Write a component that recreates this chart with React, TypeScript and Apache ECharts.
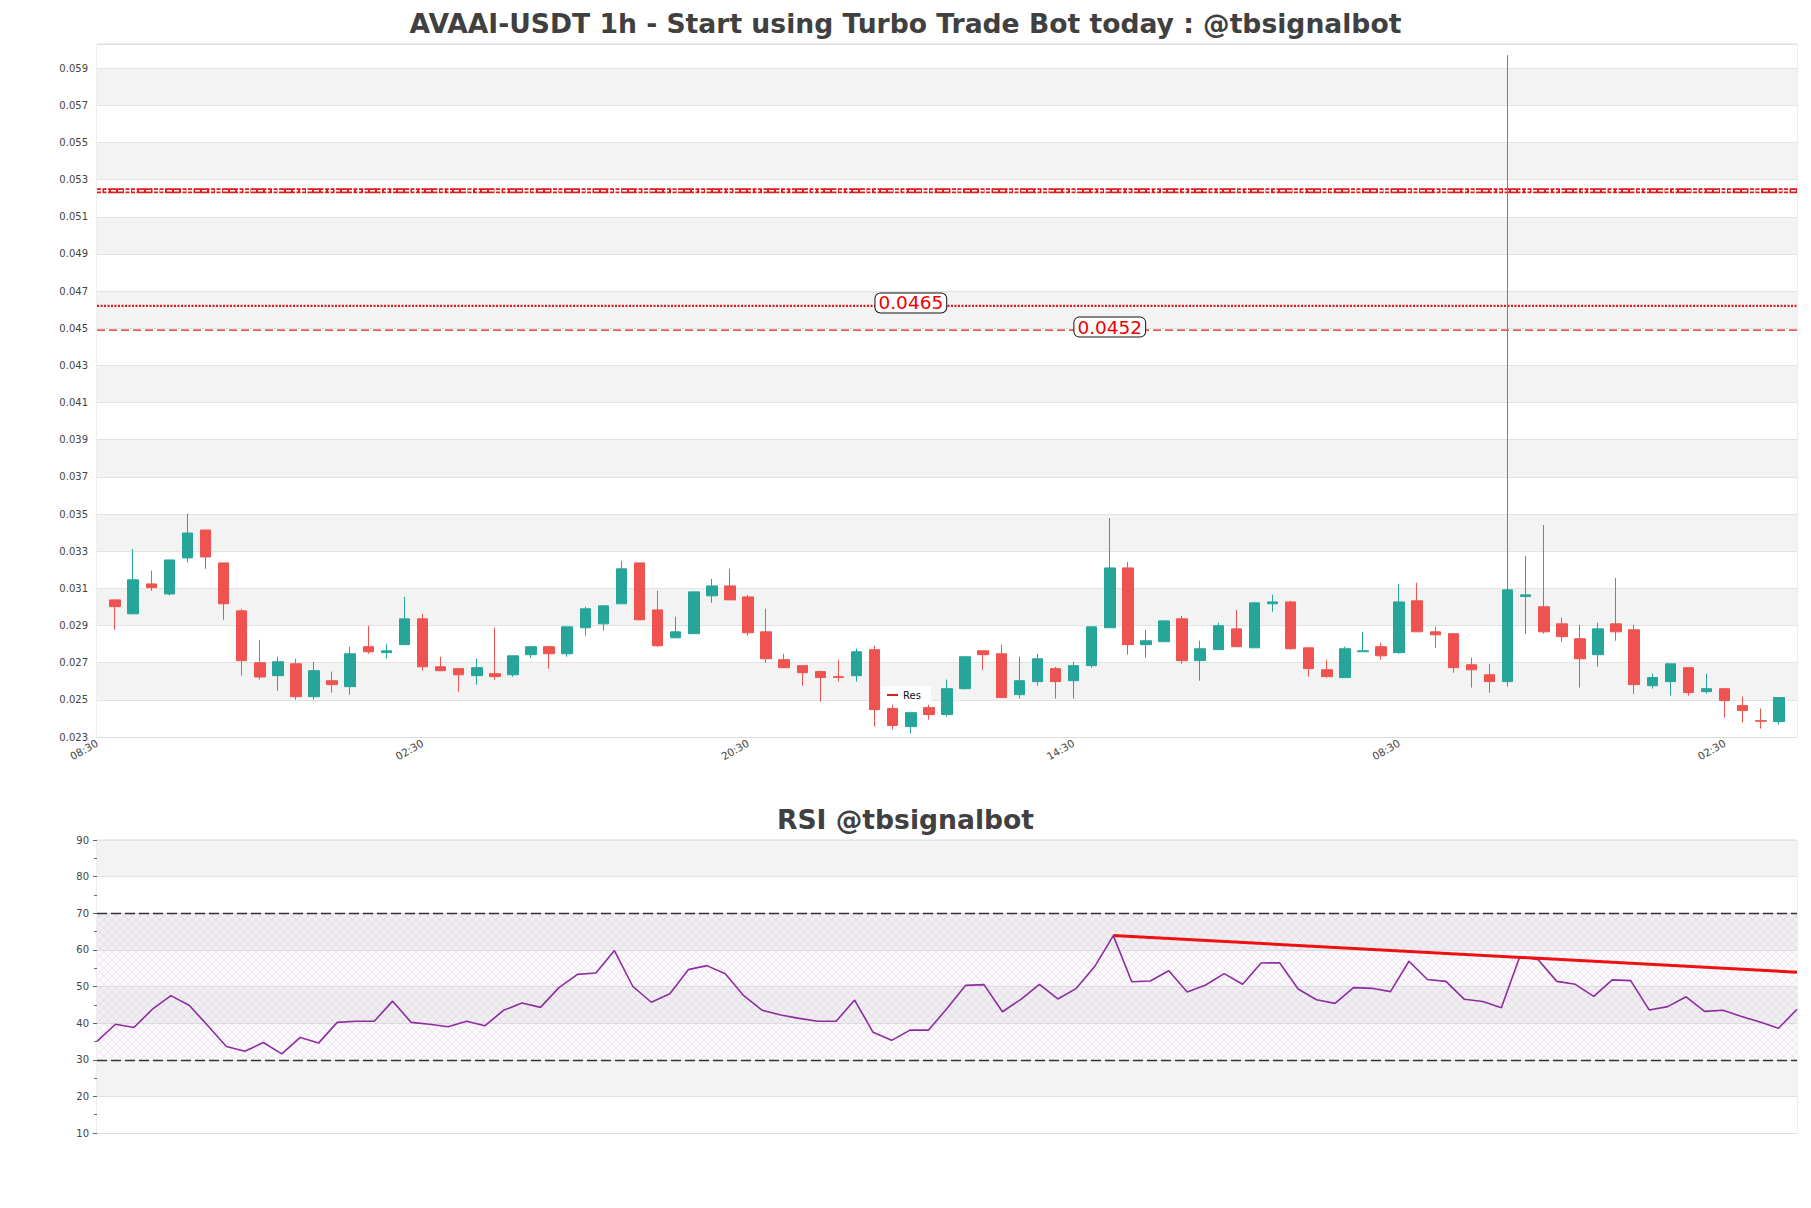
import React, { useEffect, useRef } from "react";
import * as echarts from "echarts";

// ---- data (hourly candles, first axis slot is 08:30, candles start at 09:30) ----
const firstSlotHour = 8;
const slotCount = 95;
const tickEvery = 18;

const opens = [
  0.03068, 0.02993, 0.03154, 0.031, 0.03294, 0.03444, 0.03267, 0.03009, 0.0273, 0.0266,
  0.02724, 0.02547, 0.02633, 0.02601, 0.02816, 0.02784, 0.02827, 0.02966, 0.02708, 0.02698,
  0.0266, 0.02671, 0.02665, 0.02773, 0.02816, 0.02778, 0.02918, 0.02939, 0.03047, 0.03267,
  0.03014, 0.02864, 0.02886, 0.0309, 0.03143, 0.03084, 0.02896, 0.02746, 0.02714, 0.02682,
  0.02655, 0.0266, 0.028, 0.02483, 0.02386, 0.02488, 0.02451, 0.0259, 0.02794, 0.02778,
  0.02558, 0.02628, 0.02698, 0.02633, 0.02714, 0.02918, 0.0324, 0.02827, 0.02843, 0.02966,
  0.02741, 0.028, 0.02912, 0.0281, 0.03047, 0.03057, 0.0281, 0.02692, 0.0265, 0.02789,
  0.02816, 0.02784, 0.03063, 0.02896, 0.02886, 0.02719, 0.02665, 0.02628, 0.03086, 0.03031,
  0.02939, 0.02859, 0.02773, 0.02939, 0.02907, 0.02606, 0.02628, 0.02703, 0.02574, 0.0259,
  0.02499, 0.02418, 0.02413,
];
const closes = [
  0.03032, 0.03176, 0.03134, 0.03283, 0.03428, 0.03299, 0.03047, 0.02741, 0.02653, 0.02735,
  0.02547, 0.02687, 0.02612, 0.02778, 0.02789, 0.02794, 0.02966, 0.02708, 0.02687, 0.02665,
  0.02703, 0.02655, 0.02767, 0.02816, 0.02778, 0.02923, 0.0302, 0.03036, 0.03235, 0.02961,
  0.02821, 0.02896, 0.03111, 0.03143, 0.03068, 0.02891, 0.02751, 0.02703, 0.02676, 0.0265,
  0.02651, 0.02789, 0.02477, 0.02392, 0.02461, 0.02451, 0.0259, 0.02762, 0.02773, 0.02542,
  0.02633, 0.02751, 0.02628, 0.02714, 0.02923, 0.0324, 0.02827, 0.02848, 0.02955, 0.02741,
  0.02805, 0.02929, 0.02816, 0.03052, 0.03057, 0.02805, 0.02698, 0.02655, 0.02805, 0.02794,
  0.02767, 0.03057, 0.02896, 0.0288, 0.02703, 0.02692, 0.02628, 0.03122, 0.03095, 0.02896,
  0.0287, 0.02751, 0.02912, 0.02896, 0.02612, 0.0265, 0.02724, 0.02569, 0.0259, 0.02526,
  0.02472, 0.02415, 0.02542,
];
const lows = [
  0.02907, 0.0299, 0.03117, 0.03091, 0.03269, 0.03235, 0.02961, 0.0266, 0.02639, 0.0258,
  0.02531, 0.02531, 0.02569, 0.02558, 0.02778, 0.02751, 0.02827, 0.02687, 0.02687, 0.02574,
  0.02612, 0.02637, 0.02655, 0.02757, 0.02698, 0.02762, 0.02875, 0.02902, 0.03047, 0.02961,
  0.02816, 0.02864, 0.02886, 0.03052, 0.03068, 0.02875, 0.0273, 0.02703, 0.02606, 0.02521,
  0.02628, 0.02628, 0.02386, 0.0237, 0.02349, 0.02424, 0.0244, 0.02585, 0.02692, 0.02542,
  0.02537, 0.02606, 0.02537, 0.02537, 0.02703, 0.02918, 0.02773, 0.02757, 0.02843, 0.02724,
  0.02633, 0.028, 0.02816, 0.0281, 0.03004, 0.028, 0.02655, 0.0265, 0.0265, 0.02789,
  0.02746, 0.02778, 0.02896, 0.0281, 0.02676, 0.02596, 0.02569, 0.02601, 0.02886, 0.02886,
  0.02843, 0.02596, 0.02708, 0.02848, 0.02563, 0.0259, 0.02553, 0.02553, 0.02563, 0.02434,
  0.02408, 0.02375, 0.02397,
];
const highs = [
  0.0307, 0.03342, 0.03226, 0.03283, 0.03532, 0.03444, 0.03267, 0.0302, 0.02853, 0.02762,
  0.02751, 0.02735, 0.02682, 0.02816, 0.02929, 0.02832, 0.03084, 0.02993, 0.02762, 0.02698,
  0.02751, 0.02918, 0.02767, 0.02821, 0.02816, 0.02923, 0.03031, 0.03036, 0.03278, 0.03267,
  0.03117, 0.02977, 0.03111, 0.03181, 0.03235, 0.03095, 0.0302, 0.02778, 0.02714, 0.02687,
  0.02746, 0.02805, 0.02821, 0.02504, 0.02467, 0.02504, 0.02639, 0.02762, 0.02794, 0.02827,
  0.02762, 0.02778, 0.02708, 0.02735, 0.02923, 0.03509, 0.03272, 0.02907, 0.02955, 0.02982,
  0.02848, 0.02945, 0.03014, 0.03057, 0.03095, 0.03063, 0.0281, 0.02746, 0.02816, 0.02896,
  0.02837, 0.03154, 0.0316, 0.02923, 0.02886, 0.02757, 0.02724, 0.06, 0.03304, 0.03471,
  0.02972, 0.02934, 0.02945, 0.03186, 0.02934, 0.02671, 0.02724, 0.02703, 0.02671, 0.0259,
  0.02547, 0.02483, 0.02542,
];

const rsiValues = [
  35.0, 39.7, 38.8, 43.8, 47.5, 44.8, 39.3, 33.6, 32.3, 34.7,
  31.6, 36.1, 34.6, 40.2, 40.5, 40.5, 46.0, 40.2, 39.7, 39.0,
  40.5, 39.3, 43.5, 45.5, 44.3, 49.7, 53.3, 53.7, 59.8, 50.0,
  45.7, 48.0, 54.6, 55.7, 53.5, 47.5, 43.5, 42.2, 41.3, 40.5,
  40.5, 46.3, 37.5, 35.3, 38.1, 38.1, 44.0, 50.3, 50.5, 43.1,
  46.5, 50.6, 46.6, 49.5, 55.5, 63.9, 51.3, 51.5, 54.3, 48.5,
  50.4, 53.5, 50.6, 56.4, 56.5, 49.3, 46.4, 45.4, 49.7, 49.5,
  48.6, 56.9, 51.9, 51.4, 46.5, 45.9, 44.2, 58.2, 57.3, 51.4,
  50.6, 47.3, 51.8, 51.6, 43.6, 44.5, 47.2, 43.2, 43.5, 41.8,
  40.3, 38.6, 43.8,
];

const trendPoints = [
  [55, 63.9],
  [92, 53.9],
];

const resLevel = 0.0527;
const levelLabels = [
  { value: 0.0465, slot: 45, dash: [2, 1.5] },
  { value: 0.0452, slot: 56, dash: [8, 4] },
];
const rsiBands = [30, 70];

const yMin = 0.0233;
const yMax = 0.0606;
const yStep = 0.002;

const FONT = "DejaVu Sans";

function slotLabel(s: number): string {
  const h = (firstSlotHour + s) % 24;
  return (h < 10 ? "0" + h : String(h)) + ":30";
}

function makeHatch(): any {
  const c = document.createElement("canvas");
  c.width = 8;
  c.height = 8;
  const ctx = c.getContext("2d");
  if (ctx) {
    ctx.fillStyle = "rgba(190,160,205,0.06)";
    ctx.fillRect(0, 0, 8, 8);
    ctx.strokeStyle = "rgba(175,150,190,0.32)";
    ctx.lineWidth = 0.6;
    ctx.beginPath();
    ctx.moveTo(0, 0);
    ctx.lineTo(8, 8);
    ctx.moveTo(8, 0);
    ctx.lineTo(0, 8);
    ctx.stroke();
  }
  return { image: c, repeat: "repeat", imageWidth: 8, imageHeight: 8 };
}

export default function App() {
  const ref = useRef<HTMLDivElement>(null);

  useEffect(() => {
    document.body.style.margin = "0";
    if (!ref.current) return;
    const chart = echarts.init(ref.current, null, { renderer: "svg" });

    const slots: string[] = [];
    for (let s = 0; s < slotCount; s++) slots.push(slotLabel(s));
    const candleData = opens.map((o, i) => [i + 1, o, closes[i], lows[i], highs[i]]);
    const rsiCats = rsiValues.map((_, i) => String(i));

    const titleStyle = { fontFamily: FONT, fontWeight: "bold", fontSize: 26.6, color: "#404040" };

    const option: any = {
      animation: false,
      backgroundColor: "#ffffff",
      textStyle: { fontFamily: FONT },
      title: [
        {
          text: "AVAAI-USDT 1h - Start using Turbo Trade Bot today : @tbsignalbot",
          left: "center",
          top: 5,
          textStyle: titleStyle,
        },
        {
          text: "RSI @tbsignalbot",
          left: "center",
          top: 801,
          textStyle: titleStyle,
        },
      ],
      legend: {
        data: [{ name: "Res", icon: "rect" }],
        left: 881,
        top: 686,
        itemWidth: 11,
        itemHeight: 2,
        padding: [4, 10, 4, 6],
        backgroundColor: "#ffffff",
        textStyle: { fontFamily: FONT, fontSize: 10, color: "#111" },
      },
      grid: [
        { left: 97, right: 14, top: 44, height: 693, show: true, borderColor: "#dcdcdc", borderWidth: 1, backgroundColor: "transparent" },
        { left: 97, right: 14, top: 840, height: 293, show: true, borderColor: "#dcdcdc", borderWidth: 1, backgroundColor: "transparent" },
      ],
      xAxis: [
        {
          type: "category",
          gridIndex: 0,
          data: slots,
          boundaryGap: false,
          axisLine: { show: true, lineStyle: { color: "#dcdcdc" } },
          axisTick: { show: false },
          splitLine: { show: false },
          axisLabel: {
            interval: (idx: number) => idx % tickEvery === 0,
            rotate: 30,
            fontSize: 10.5,
            color: "#444",
            margin: 5,
            fontFamily: FONT,
          },
        },
        {
          type: "category",
          gridIndex: 1,
          data: rsiCats,
          boundaryGap: false,
          axisLine: { show: true, lineStyle: { color: "#dcdcdc" } },
          axisTick: { show: false },
          axisLabel: { show: false },
          splitLine: { show: false },
        },
      ],
      yAxis: [
        {
          type: "value",
          gridIndex: 0,
          min: yMin,
          max: yMax,
          interval: yStep,
          axisLine: { show: false },
          axisTick: { show: false },
          axisLabel: {
            showMaxLabel: false,
            fontSize: 10,
            color: "#444",
            margin: 9,
            fontFamily: FONT,
            formatter: (v: number) => (v > yMax - 0.0005 ? "" : (Math.round(v * 1000) / 1000).toFixed(3)),
          },
          splitLine: { show: true, lineStyle: { color: "#e2e2e2", width: 1 } },
          splitArea: { show: true, areaStyle: { color: ["#ffffff", "#f3f3f3"] } },
        },
        {
          type: "value",
          gridIndex: 1,
          min: 10,
          max: 90,
          interval: 10,
          axisLine: { show: false },
          axisTick: { show: true, length: 4, lineStyle: { color: "#666" } },
          minorTick: { show: true, splitNumber: 2, length: 3, lineStyle: { color: "#666" } },
          axisLabel: { fontSize: 10, color: "#444", margin: 8, fontFamily: FONT },
          splitLine: { show: true, lineStyle: { color: "#e2e2e2", width: 1 } },
          splitArea: { show: true, areaStyle: { color: ["#ffffff", "#f3f3f3"] } },
        },
      ],
      series: [
        {
          name: "Res",
          type: "line",
          xAxisIndex: 0,
          yAxisIndex: 0,
          data: [
            [0, resLevel],
            [slotCount - 1, resLevel],
          ],
          symbol: "none",
          color: "#dd1c1c",
          lineStyle: { color: "#dd1c1c", width: 5, type: [4, 1.5, 4, 1.5, 16, 1.5] },
          z: 3,
        },
        {
          name: "resInner",
          type: "line",
          xAxisIndex: 0,
          yAxisIndex: 0,
          data: [
            [0, resLevel],
            [slotCount - 1, resLevel],
          ],
          symbol: "none",
          lineStyle: { color: "#ffffff", width: 1.6, type: [5, 2] },
          z: 4,
          silent: true,
        },
        ...levelLabels.map((lv, k) => ({
          name: "level" + k,
          type: "line",
          xAxisIndex: 0,
          yAxisIndex: 0,
          data: [
            [0, lv.value],
            [slotCount - 1, lv.value],
          ],
          symbol: "none",
          lineStyle: { color: "#dd1c1c", width: k === 0 ? 2.2 : 1.4, type: lv.dash },
          z: 3,
          silent: true,
        })),
        {
          name: "candles",
          type: "candlestick",
          xAxisIndex: 0,
          yAxisIndex: 0,
          data: candleData,
          encode: { x: 0, y: [1, 2, 3, 4] },
          barWidth: 11,
          itemStyle: {
            color: "#26a69a",
            color0: "#ef5350",
            borderColor: "#26a69a",
            borderColor0: "#ef5350",
            borderWidth: 1,
          },
          z: 5,
        },
        {
          name: "levelLabels",
          type: "scatter",
          xAxisIndex: 0,
          yAxisIndex: 0,
          data: levelLabels.map((lv) => [lv.slot, lv.value]),
          symbol: "circle",
          symbolSize: 2,
          itemStyle: { color: "rgba(0,0,0,0)" },
          silent: true,
          z: 6,
          label: {
            show: true,
            position: "inside",
            offset: [0, -3],
            opacity: 1,
            formatter: (p: any) => p.value[1].toFixed(4),
            fontFamily: FONT,
            fontSize: 18.5,
            lineHeight: 19,
            color: "#ee0000",
            backgroundColor: "#ffffff",
            borderColor: "#111111",
            borderWidth: 1,
            borderRadius: 5,
            padding: [0, 3, 0, 3],
          },
        },
        {
          name: "RSI",
          type: "line",
          xAxisIndex: 1,
          yAxisIndex: 1,
          data: rsiValues,
          symbol: "none",
          lineStyle: { color: "#8e2ca0", width: 1.6 },
          z: 4,
          markLine: {
            silent: true,
            symbol: "none",
            label: { show: false },
            lineStyle: { color: "#333333", width: 1.3, type: [10, 4] },
            data: rsiBands.map((v) => ({ yAxis: v })),
          },
          markArea: {
            silent: true,
            itemStyle: { color: makeHatch() },
            data: [[{ yAxis: rsiBands[0] }, { yAxis: rsiBands[1] }]],
          },
        },
        {
          name: "trend",
          type: "line",
          xAxisIndex: 1,
          yAxisIndex: 1,
          data: trendPoints,
          symbol: "none",
          lineStyle: { color: "#ee1111", width: 3 },
          z: 5,
        },
      ],
    };

    chart.setOption(option);
    return () => chart.dispose();
  }, []);

  return <div ref={ref} style={{ width: 1811, height: 1208 }} />;
}
